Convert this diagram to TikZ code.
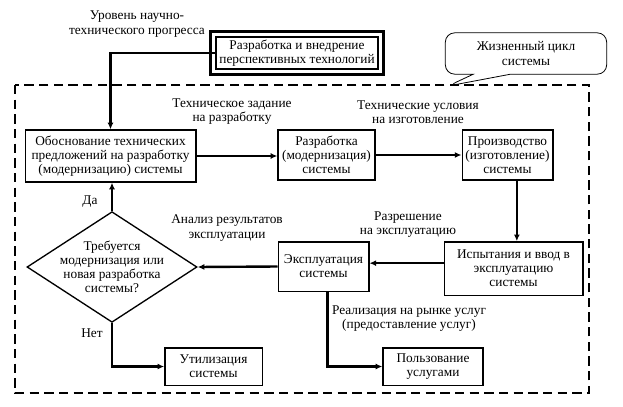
\documentclass[tikz,border=0pt]{standalone}
\usepackage{fontspec}
\setmainfont{Liberation Serif}
\usetikzlibrary{arrows.meta,calc,positioning,shapes.geometric,shapes.callouts}
\tikzset{flow/.style={-{Latex[length=5pt,width=4.5pt]}, line width=1.8pt},
  blk/.style={draw, line width=1pt, align=center, inner sep=1pt},
  note/.style={align=center, inner sep=0pt}}

\begin{document}
\begin{tikzpicture}[x=0.75pt, y=-0.75pt, font=\fontsize{10}{10.6}\selectfont]
  \useasboundingbox (0,0) rectangle (623,406);
  % life cycle frame
  \draw[line width=2.2pt, dash pattern=on 7pt off 4pt] (15,85) rectangle (589,393);
  \coordinate (tip) at (448,86);
  \node[draw, rectangle callout, rounded corners=7pt, line width=0.6pt, minimum width=121pt,
    minimum height=31pt, align=center, callout absolute pointer=(tip),
    callout pointer width=28pt] (cycle) at (526,53.5) {Жизненный цикл\\системы};
  % new technologies (double border)
  \node[blk, minimum width=121.5pt, minimum height=24pt] (tech) at (297,53)
    {Разработка и внедрение\\перспективных технологий};
  \draw[line width=2.3pt] ($(tech.north west)+(-4.5,-4.5)$) rectangle ($(tech.south east)+(4.5,4.5)$);
  \node[note] (level) at (137,24) {Уровень научно-\\технического прогресса};
  % main chain
  \node[blk, minimum width=128pt, minimum height=39pt] (obosn) at (110.5,156)
    {Обоснование технических\\предложений на разработку\\(модернизацию) системы};
  \node[blk, minimum width=72.75pt, minimum height=37.5pt] (razr) at (326.5,155)
    {Разработка\\(модернизация)\\системы};
  \node[blk, minimum width=68pt, minimum height=37.5pt] (proizv) at (507.5,155)
    {Производство\\(изготовление)\\системы};
  \node[blk, minimum width=104pt, minimum height=40pt] (ispyt) at (513.5,268.5)
    {Испытания и ввод в\\эксплуатацию\\системы};
  \node[blk, minimum width=68pt, minimum height=37pt] (ekspl) at (323.5,266.5)
    {Эксплуатация\\системы};
  \node[draw, diamond, line width=1pt, minimum width=127.5pt, minimum height=83pt, inner sep=0pt,
    label={[align=center]center:Требуется\\модернизация или\\новая разработка\\системы?}] (vybor) at (112,267) {};
  \node[blk, minimum width=73pt, minimum height=28pt] (util) at (213.5,366.5)
    {Утилизация\\системы};
  \node[blk, minimum width=75pt, minimum height=28pt] (polz) at (433,366.5)
    {Пользование\\услугами};
  % connectors
  \draw[flow] (tech.west) -| (obosn.north);
  \draw[flow] (obosn.east) -- (obosn.east -| razr.west);
  \node[note] (zad) at (232,112) {Техническое задание\\на разработку};
  \draw[flow] (razr.east) -- (razr.east -| proizv.west);
  \node[note] (usl) at (418,112) {Технические условия\\на изготовление};
  \draw[flow] ([xshift=7pt]proizv.south) -- ([xshift=7pt]proizv.south |- ispyt.north);
  \draw[flow] ([yshift=4pt]ispyt.west) -- ([yshift=4pt]ispyt.west -| ekspl.east);
  \node[note] (razr-l) at (408,225) {Разрешение\\на эксплуатацию};
  \draw[flow] (ekspl.west) -- (vybor.east);
  \node[note] (analiz) at (227,228) {Анализ результатов\\эксплуатации};
  \draw[flow] (vybor.north) -- (vybor.north |- obosn.south);
  \node (da) at (90,202) {Да};
  \draw[flow] (vybor.south) |- (util.west);
  \node (net) at (92,333) {Нет};
  \draw[flow] ([xshift=3pt]ekspl.south) |- (polz.west);
  \node[note] (real) at (409,319) {Реализация на рынке услуг\\(предоставление услуг)};
\end{tikzpicture}
\end{document}
